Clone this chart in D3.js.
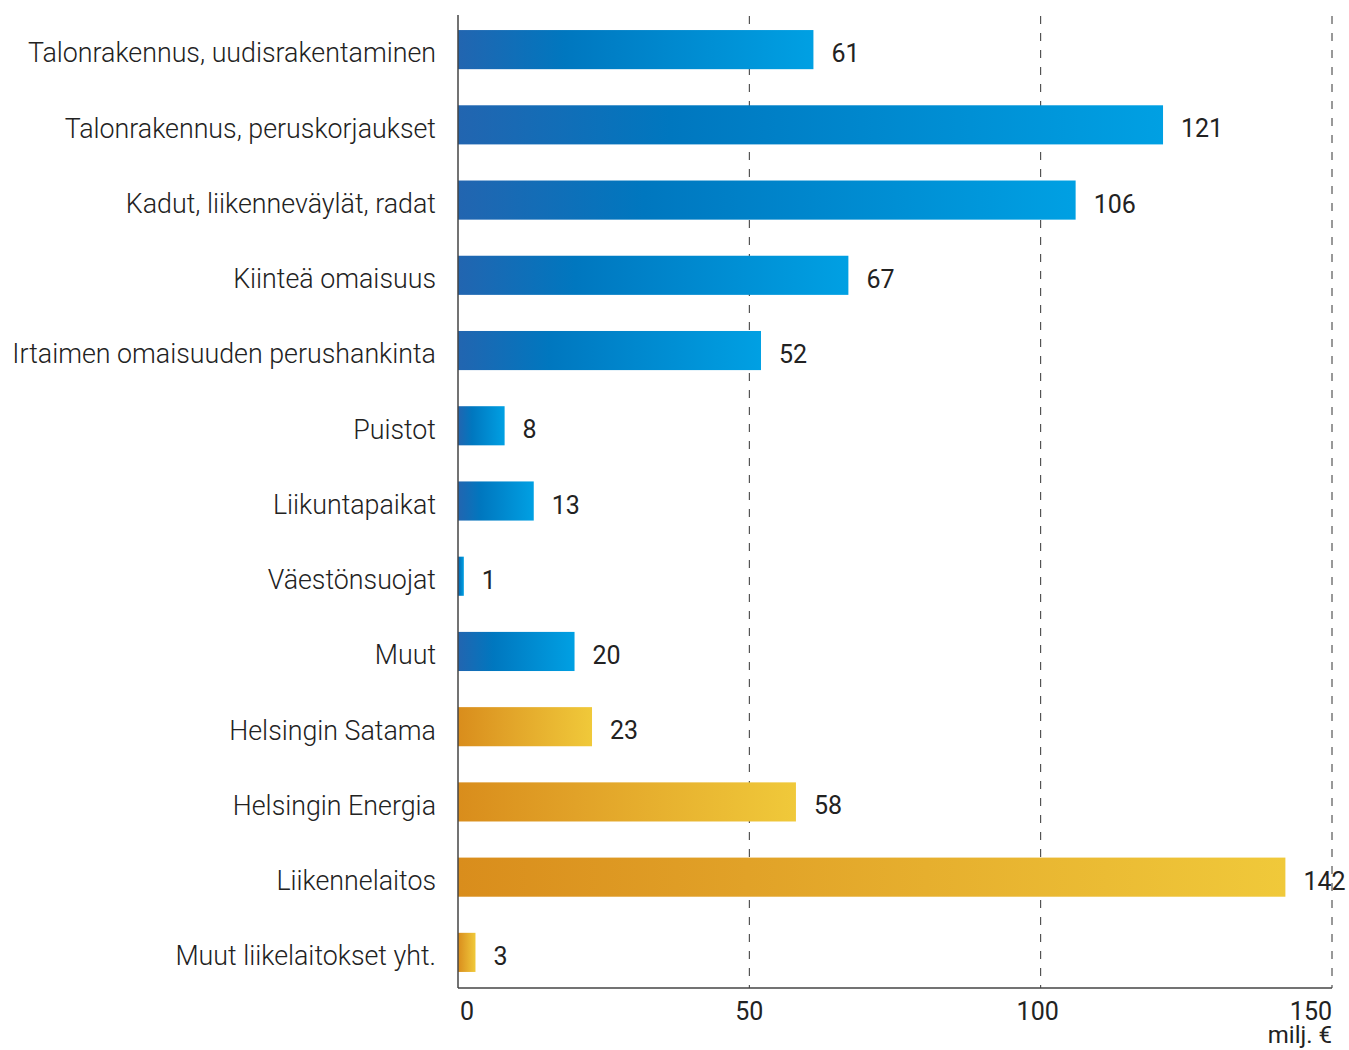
<!DOCTYPE html>
<html><head><meta charset="utf-8">
<script src="https://cdn.jsdelivr.net/npm/d3@7"></script>
<style>body{margin:0;background:#fff;} text{font-family:Roboto,"Liberation Sans",sans-serif;}</style>
</head><body>
<svg id="chart" width="1349" height="1050"></svg>
<script>
const categories = ["Talonrakennus, uudisrakentaminen","Talonrakennus, peruskorjaukset","Kadut, liikenneväylät, radat","Kiinteä omaisuus","Irtaimen omaisuuden perushankinta","Puistot","Liikuntapaikat","Väestönsuojat","Muut","Helsingin Satama","Helsingin Energia","Liikennelaitos","Muut liikelaitokset yht."];
const values = [61,121,106,67,52,8,13,1,20,23,58,142,3];
const groups = ["city","city","city","city","city","city","city","city","city","enterprise","enterprise","enterprise","enterprise"];
const xTicks = [0,50,100,150];
const unitLabel = "milj. €";

const svg = d3.select("#chart");
const x = d3.scaleLinear().domain([0,150]).range([458,1332]);
const y = d3.scaleBand().domain(categories).range([12,990]).paddingInner(0.48).paddingOuter(0.24);

const defs = svg.append("defs");
const gBlue = defs.append("linearGradient").attr("id","gBlue");
[[0,"#2265b0"],[0.3,"#0077bf"],[1,"#00a0e3"]].forEach(([o,c])=>gBlue.append("stop").attr("offset",o).attr("stop-color",c));
const gGold = defs.append("linearGradient").attr("id","gGold");
[[0,"#d98d1c"],[0.35,"#e1a228"],[1,"#f0c93a"]].forEach(([o,c])=>gGold.append("stop").attr("offset",o).attr("stop-color",c));

// gridlines
svg.append("g").selectAll("line").data(xTicks.filter(d=>d>0)).join("line")
  .attr("x1",d=>x(d)).attr("x2",d=>x(d)).attr("y1",16).attr("y2",988)
  .attr("stroke","#333").attr("stroke-width",1).attr("stroke-dasharray","8,9");

// bars
const idx = categories.map((c,i)=>i);
svg.append("g").selectAll("rect").data(idx).join("rect")
  .attr("x",x(0)).attr("y",i=>y(categories[i]))
  .attr("width",i=>x(values[i])-x(0)).attr("height",y.bandwidth())
  .attr("fill",i=>groups[i]==="city"?"url(#gBlue)":"url(#gGold)");

// value labels
svg.append("g").selectAll("text").data(idx).join("text")
  .attr("x",i=>x(values[i])+18).attr("y",i=>y(categories[i])+y.bandwidth()/2)
  .attr("dy","0.5em").attr("font-size",25).attr("fill","#222")
  .text(i=>values[i]);

// category labels
svg.append("g").selectAll("text").data(idx).join("text")
  .attr("x",436).attr("y",i=>y(categories[i])+y.bandwidth()/2)
  .attr("dy","0.48em").attr("text-anchor","end").attr("font-size",26.8).attr("font-weight",300).attr("fill","#222")
  .text(i=>categories[i]);

// axes lines
svg.append("line").attr("x1",x(0)).attr("x2",x(0)).attr("y1",15).attr("y2",988).attr("stroke","#444").attr("stroke-width",1.5);
svg.append("line").attr("x1",x(0)).attr("x2",x(150)).attr("y1",988).attr("y2",988).attr("stroke","#444").attr("stroke-width",1.5);

// tick labels
svg.append("g").selectAll("text").data(xTicks).join("text")
  .attr("x",d=>d===0?x(d)+2:(d===150?x(d):(d===100?x(d)-3:x(d))))
  .attr("y",1020)
  .attr("text-anchor",d=>d===0?"start":(d===150?"end":"middle"))
  .attr("font-size",25).attr("fill","#222")
  .text(d=>d);
svg.append("text").attr("x",x(150)).attr("y",1043).attr("text-anchor","end")
  .attr("font-size",24).attr("fill","#222").text(unitLabel);
</script>
</body></html>
